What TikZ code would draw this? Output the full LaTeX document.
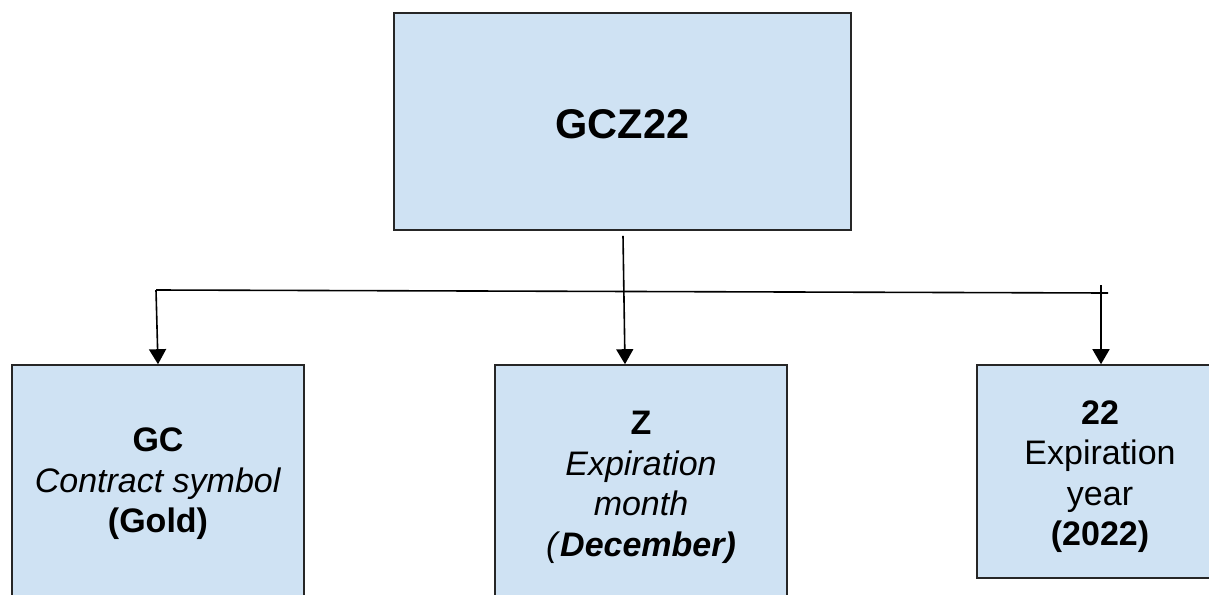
\documentclass[tikz,border=0pt]{standalone}
\usepackage{fontspec}
\setmainfont{Liberation Sans}
\usetikzlibrary{arrows.meta}
\definecolor{boxblue}{HTML}{CFE2F3}
\begin{document}
\begin{tikzpicture}[x=1pt,y=-1pt,
  box/.style={draw=black!85,line width=1.6pt,fill=boxblue,inner sep=0pt,align=center,
    font=\fontsize{34}{40.5}\selectfont},
  conn/.style={line width=1.6pt,black},
  arr/.style={conn,-{Triangle[width=17pt,length=15pt]}}]
\useasboundingbox (0,0) rectangle (1209,594);
\node[box,minimum width=457pt,minimum height=217pt,font=\fontsize{41.5}{48}\selectfont\bfseries] (top) at (622.5,121.5) {\rule{0pt}{35pt}GCZ22};
\node[box,minimum width=292pt,minimum height=238pt] (left) at (158,484) {\textbf{GC}\\\textit{Contract symbol}\\\textbf{(Gold)}};
\node[box,minimum width=292pt,minimum height=238pt] (mid) at (641,484) {\rule{0pt}{30pt}\textbf{Z}\\\textit{Expiration}\\\textit{month}\\\textit{(}\textbf{\textit{December)}}};
\node[box,minimum width=246pt,minimum height=213pt] (right) at (1100,471.5) {\rule{0pt}{34pt}\textbf{22}\\Expiration\\year\\\textbf{(2022)}};
\coordinate (hl) at (156,290);
\coordinate (hr) at (1108,293);
\coordinate (rt) at (1101,285);
\draw[conn] (hl) -- (hr);
\draw[arr] (hl) -- (left.north);
\draw[arr] ([xshift=0.5pt,yshift=-5pt]top.south) -- ([xshift=-16pt]mid.north);
\draw[arr] (rt) -- ([xshift=1pt]right.north);
\end{tikzpicture}
\end{document}
